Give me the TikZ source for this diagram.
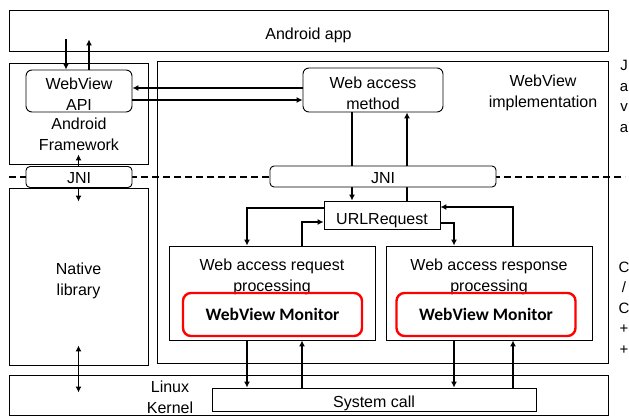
\documentclass[tikz,border=0pt]{standalone}
\usepackage{fontspec}
\setmainfont{Liberation Sans}
\newfontfamily\monfont{Carlito}
\usetikzlibrary{arrows.meta}
\usetikzlibrary{positioning}

% text set a little low, as in the boxes of the figure
\newcommand{\boxtext}[2][-5pt]{\raisebox{#1}[\height][\depth]{\begin{tabular}{@{}c@{}}#2\end{tabular}}}

\begin{document}
\begin{tikzpicture}[x=1pt, y=-1pt,
		font=\fontsize{16}{21}\selectfont,
		box/.style={draw, line width=0.9pt, inner sep=0pt},
		rbox/.style={box, rounded corners=6pt},
		jni/.style={rbox, fill=white, rounded corners=4pt},
		lbl/.style={inner sep=0pt},
		mon/.style={draw=red, line width=2.4pt, rounded corners=8pt, inner sep=0pt,
			font=\monfont\bfseries\fontsize{17.5}{20}\selectfont, minimum width=179pt, minimum height=43pt},
		side/.style={anchor=base, inner sep=0pt, font=\fontsize{15}{16}\selectfont},
		arr/.style={line width=1.8pt, -{Latex[length=6pt,width=6pt]}},
		darr/.style={line width=1.8pt, {Latex[length=6pt,width=6pt]}-{Latex[length=6pt,width=6pt]}}]
			\useasboundingbox (0,0) rectangle (629,417);

			% layers
			\node[box, minimum width=599pt, minimum height=41pt] (app) at (308.5,30.5) {\boxtext{Android app}};
			\node[box, minimum width=139pt, minimum height=101pt] (fw) at (78.5,113.5) {};
			\node[lbl] (fwtext) at (79,131) {\boxtext{Android\\Framework}};
			\node[rbox, minimum width=106pt, minimum height=38pt] (api) at (79,91) {\boxtext{WebView\\API}};
			\node[box, minimum width=451pt, minimum height=302pt] (impl) at (382.5,212) {};
			\node[lbl] (impltext) at (543,87.5) {\boxtext{WebView\\implementation}};
			\node[rbox, minimum width=140pt, minimum height=44pt] (method) at (373,90) {\boxtext{Web access\\method}};
			\node[box, minimum width=139pt, minimum height=177pt] (native) at (78.5,276.5) {\boxtext[-4pt]{Native\\library}};
			\node[box, minimum width=599pt, minimum height=40pt] (kernel) at (308.5,395) {};
			\node[lbl] (kerneltext) at (170,395) {\boxtext[-3.5pt]{Linux\\Kernel}};
			\node[box, minimum width=324pt, minimum height=23pt] (sys) at (374,399.5) {\boxtext[-4pt]{System call}};
			\node[box, minimum width=116pt, minimum height=28pt] (url) at (382,215) {\boxtext{URLRequest}};
			\node[box, minimum width=206pt, minimum height=94pt] (req) at (272,293) {};
			\node[lbl] (reqtext) at (272,270.5) {\boxtext[-6pt]{Web access request\\processing}};
			\node[box, minimum width=206pt, minimum height=94pt] (resp) at (489,293) {};
			\node[lbl] (resptext) at (489,270.5) {\boxtext[-6pt]{Web access response\\processing}};
			\node[mon] (mon1) at (272.5,314.5) {WebView Monitor};
			\node[mon] (mon2) at (486,314.5) {WebView Monitor};

			% side labels
			\foreach \ch [count=\i] in {J,a,v,a}
				\node[side] (java\i) at (624,50.5+20.5*\i) {\ch};
			\foreach \ch [count=\i] in {C,/,C,+,+}
				\node[side] (cpp\i) at (624,251.5+20.5*\i) {\ch};

			% arrow end points
			\coordinate (appin) at ([yshift=12pt]app.south);
			\coordinate (apiin) at ([xshift=-13pt]api.north);
			\coordinate (apiout) at ([xshift=10pt]api.north);
			\coordinate (mleft) at ([yshift=2pt]method.west);
			\coordinate (mright) at ([yshift=-9pt]api.east);
			\coordinate (mdown) at ([xshift=-21pt]method.south);
			\coordinate (mup) at ([xshift=34pt]method.south);
			\coordinate (ulout) at ([yshift=7pt]url.west);
			\coordinate (ulin) at ([yshift=-7pt]url.west);
			\coordinate (urout) at ([yshift=-8pt]url.east);
			\coordinate (urin) at ([yshift=8pt]url.east);
			\coordinate (reqin) at ([xshift=-25pt]req.north);
			\coordinate (reqout) at ([xshift=30pt]req.north);
			\coordinate (respin) at ([xshift=-35pt]resp.north);
			\coordinate (respout) at ([xshift=24pt]resp.north);
			\coordinate (nkin) at ([yshift=-18pt]kernel.north);
			\coordinate (dl) at (9,177);
			\coordinate (dr) at (625,177);

			% connectors
			\draw[arr] (apiin |- appin) -- (apiin);
			\draw[arr] (apiout) -- (apiout |- appin);
			\draw[arr] (mleft) -- (mleft -| api.east);
			\draw[arr] (mright) -- (mright -| method.west);
			\draw[arr] (mdown) -- (mdown |- url.north);
			\draw[arr] (mup |- url.north) -- (mup);
			\draw[arr] (ulout) -| (reqin);
			\draw[arr] (reqout) |- (ulin);
			\draw[arr] (urout) -| (respin);
			\draw[arr] (respout) |- (urin);
			\draw[arr] (reqin |- req.south) -- (reqin |- sys.north);
			\draw[arr] (reqout |- sys.north) -- (reqout |- req.south);
			\draw[arr] (respin |- resp.south) -- (respin |- sys.north);
			\draw[arr] (respout |- sys.north) -- (respout |- resp.south);
			\draw[darr] ([yshift=10pt]fw.south) -- ([yshift=-14pt]native.north);
			\draw[darr] ([yshift=20pt]native.south) -- (native.south |- nkin);
			\draw[line width=1.8pt, dash pattern=on 7pt off 4pt] (dl) -- (dr);

			% JNI
			\node[jni, minimum width=106pt, minimum height=16pt] (jni1) at (79,177) {\boxtext[-2.5pt]{JNI}};
			\node[jni, minimum width=226pt, minimum height=17pt] (jni2) at (383,176.5) {\boxtext[-2.5pt]{JNI}};
		\end{tikzpicture}
\end{document}
